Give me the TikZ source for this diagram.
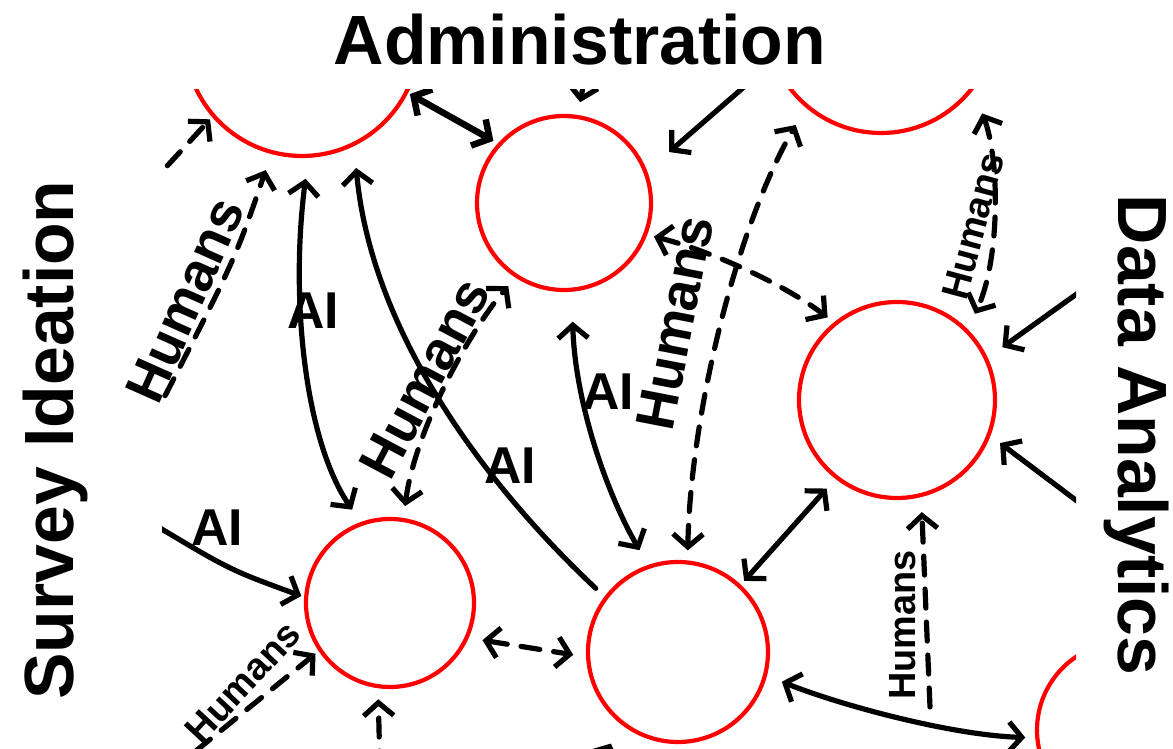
\documentclass[tikz,border=0pt]{standalone}
\usepackage{fontspec}
\setmainfont{Liberation Sans}
\usetikzlibrary{arrows.meta}
\tikzset{
  stage/.style={draw=red,circle,line width=4.2bp,inner sep=0pt},
  link/.style={line width=5.2bp,line cap=round},
  hlink/.style={link,dash pattern=on 19bp off 14bp},
  ailabel/.style={inner sep=0pt,font=\fontsize{52}{60}\selectfont\bfseries},
  hlabel/.style={inner sep=0pt,font=\fontsize{55}{64}\selectfont\bfseries},
  hsmall/.style={inner sep=0pt,font=\fontsize{38}{44}\selectfont\bfseries},
  stagetitle/.style={inner sep=0pt,font=\fontsize{70}{84}\selectfont\bfseries},
}
\begin{document}
\begin{tikzpicture}[>={Straight Barb[length=13bp,width=30bp]},line join=round]
    \useasboundingbox (0bp,0bp) rectangle (1173bp,749bp);
    %% titles
    \node (adm) at (580bp,684bp) [stagetitle,anchor=base] {Administration};
    \node (ideat) at (73bp,309bp) [stagetitle,anchor=base,rotate=90] {Survey Ideation};
    \node (analy) at (1118bp,314bp) [stagetitle,anchor=base,rotate=-90] {Data Analytics};
    %%
    \begin{scope}
    \clip (162bp,0bp) rectangle (1076bp,659bp);
    \node (c1) at (302bp,710bp) [stage,minimum size=234bp] {};
    \node (c2) at (564bp,546bp) [stage,minimum size=174bp] {};
    \node (c3) at (881bp,731bp) [stage,minimum size=230bp] {};
    \node (c4) at (897bp,349bp) [stage,minimum size=196bp] {};
    \node (c5) at (390bp,146bp) [stage,minimum size=168bp] {};
    \node (c6) at (678bp,97bp) [stage,minimum size=180bp] {};
    \node (c7) at (1125bp,19bp) [stage,minimum size=176bp] {};
    %
    \coordinate (ta) at (586bp,679bp);
    \coordinate (tb) at (752bp,669bp);
    \coordinate (tr1) at (1085bp,461bp);
    \coordinate (tr2) at (1085bp,242bp);
    \coordinate (tdash) at (930bp,42bp);
    \coordinate (tl) at (150bp,227bp);
    \coordinate (tbl) at (170bp,-23bp);
    \coordinate (tbo) at (380bp,-21bp);
    \coordinate (tbc) at (585bp,-51bp);
    \coordinate (tlu) at (150bp,324bp);
    \coordinate (tlt) at (145bp,559bp);
    %
    \draw [link,<->,line width=6.5bp,shorten <=2bp,shorten >=5bp] (c1.-27) -- (c2.138);
    \draw [link,->,shorten >=13bp] (ta) -- (c2.81);
    \draw [link,->,shorten >=29bp] (tb) -- (c2.21);
    \draw [hlink,<->,shorten <=10bp,shorten >=20bp] (c6.84) .. controls (690bp,329bp) and (735bp,519bp) .. (c3.-130);
    \draw [hlink,<->,shorten <=7bp,shorten >=8bp] (c2.-21) .. controls (700bp,501bp) and (775bp,471bp) .. (c4.129);
    \draw [hlink,<->,shorten <=25bp,shorten >=17bp] (c3.-38) .. controls (1000bp,589bp) and (1000bp,489bp) .. (c4.45);
    \draw [link,->,shorten >=18bp] (tr1) -- (c4.25);
    \draw [link,->,shorten >=12bp] (tr2) -- (c4.-21);
    \draw [hlink,->,shorten >=15bp] (tdash) -- (c4.-76);
    \draw [link,<->,shorten <=5bp,shorten >=13bp] (c6.47) -- (c4.-128);
    \draw [link,<->,shorten <=16bp,shorten >=10bp] (c6.-15) .. controls (840bp,44bp) and (950bp,14bp) .. (c7.185);
    \draw [hlink,<->,shorten <=14bp,shorten >=13bp] (c5.-24) -- (c6.183);
    \draw [link,->,shorten >=3bp] (tl) .. controls (230bp,179bp) .. (c5.176);
    \draw [hlink,->,shorten >=4bp] (tbl) -- (c5.-146);
    \draw [hlink,->,shorten >=11bp] (tbo) -- (c5.-98);
    \draw [link,->,shorten >=22bp] (tbc) -- (c6.-129);
    \draw [link,<->,shorten <=21bp,shorten >=15bp] (c1.-87) .. controls (290bp,449bp) and (305bp,309bp) .. (c5.110);
    \draw [link,->,shorten <=12bp,shorten >=22bp] (c6.143) .. controls (470bp,279bp) and (370bp,429bp) .. (c1.-64);
    \draw [link,<->,shorten <=30bp,shorten >=17bp] (c2.-85) .. controls (575bp,349bp) and (605bp,259bp) .. (c6.109);
    \draw [hlink,<->,shorten <=12bp,shorten >=11bp] (c5.81) .. controls (415bp,319bp) and (470bp,419bp) .. (c2.-123);
    \draw [hlink,->,shorten >=17bp] (tlu) .. controls (235bp,489bp) .. (c1.-105);
    \draw [hlink,->,shorten >=3bp] (tlt) -- (c1.-139);
    \end{scope}
    %% labels
    \node (aia) at (313bp,438bp) [ailabel] {AI};
    \node (aib) at (510bp,283bp) [ailabel] {AI};
    \node (aic) at (608bp,357bp) [ailabel] {AI};
    \node (aid) at (217bp,221bp) [ailabel] {AI};
    \node (hua) at (185bp,449bp) [hlabel,rotate=66] {Humans};
    \node (hub) at (425bp,371bp) [hlabel,rotate=62] {Humans};
    \node (huc) at (675bp,426bp) [hlabel,rotate=79] {Humans};
    \node (hud) at (973bp,523bp) [hsmall,rotate=75] {Humans};
    \node (hue) at (903bp,124bp) [hsmall,rotate=90] {Humans};
    \node (huf) at (243bp,67bp) [hsmall,rotate=47] {Humans};
    %
\end{tikzpicture}
\end{document}
